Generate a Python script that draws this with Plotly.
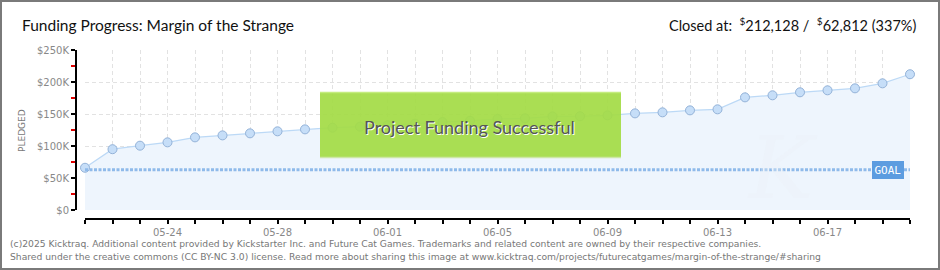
import plotly.graph_objects as go
import pandas as pd

# ---- data ----
dates = pd.date_range("2025-05-21", "2025-06-20", freq="D").strftime("%Y-%m-%d").tolist()
pledged = [66000, 95000, 100500, 105700, 113500, 116600, 119800, 122900, 126000, 128600,
           130200, 132500, 135000, 137500, 139500, 142200, 143200, 146300, 146500, 147900,
           151000, 152600, 155700, 157300, 176000, 179200, 183900, 187000, 190100, 197900,
           212128]
goal = 62812
y_ticks = [0, 50000, 100000, 150000, 200000, 250000]
y_tick_labels = ["$0", "$50K", "$100K", "$150K", "$200K", "$250K"]

title_text = "Funding Progress: Margin of the Strange"
status_text = "Closed at:  <sup>$</sup>212,128 /  <sup>$</sup>62,812 (337%)"
footer_1 = ("(c)2025 Kicktraq. Additional content provided by Kickstarter Inc. and Future Cat Games. "
            "Trademarks and related content are owned by their respective companies.")
footer_2 = ("Shared under the creative commons (CC BY-NC 3.0) license. Read more about sharing this image "
            "at www.kicktraq.com/projects/futurecatgames/margin-of-the-strange/#sharing")

W, H = 940, 270
L, R, T, B = 76, 30, 50, 51          # paper area: x 76..910, y 50..219
PW, PH = W - L - R, H - T - B

HEAD_FONT = "Lato, Roboto, sans-serif"


def px(x):
    return (x - L) / PW


def py(y):
    return (H - B - y) / PH


fig = go.Figure()

# pledged area + line + markers
fig.add_trace(go.Scatter(
    x=dates, y=pledged, mode="lines+markers", fill="tozeroy",
    fillcolor="#EEF5FD",
    line=dict(color="#BCD9F6", width=1.2),
    marker=dict(size=9, color="#C6DEF8", line=dict(color="#93B2D8", width=1)),
    cliponaxis=False, hoverinfo="skip",
))

# goal line
fig.add_trace(go.Scatter(
    x=[dates[0], dates[-1]], y=[goal, goal], mode="lines",
    line=dict(color="#8FBAEA", width=3, dash="3px,1.5px"),
    cliponaxis=False, hoverinfo="skip",
))

shapes = [
    # outer frame
    dict(type="rect", xref="paper", yref="paper",
         x0=px(1), x1=px(939), y0=py(269), y1=py(1),
         line=dict(color="#7A7A7A", width=2), fillcolor="rgba(0,0,0,0)", layer="below"),
    # success banner
    dict(type="rect", xref="paper", yref="paper",
         x0=px(320), x1=px(621), y0=py(158), y1=py(92),
         line=dict(width=0), fillcolor="rgba(164,219,70,0.93)", layer="above"),
    dict(type="line", xref="paper", yref="paper",
         x0=px(320), x1=px(621), y0=py(92.5), y1=py(92.5),
         line=dict(color="#C4EC7E", width=1.5), layer="above"),
    dict(type="line", xref="paper", yref="paper",
         x0=px(320), x1=px(621), y0=py(157.5), y1=py(157.5),
         line=dict(color="#CDE7A6", width=1.5), layer="above"),
]

annotations = [
    dict(text=title_text, xref="paper", yref="paper", x=px(20), y=py(25),
         xanchor="left", yanchor="middle", showarrow=False,
         font=dict(family=HEAD_FONT, size=15.5, color="#111")),
    dict(text=status_text, xref="paper", yref="paper", x=px(918), y=py(25),
         xanchor="right", yanchor="middle", showarrow=False,
         font=dict(family=HEAD_FONT, size=14.5, color="#111")),
    dict(text="PLEDGED", xref="paper", yref="paper", x=px(22), y=py(131),
         xanchor="center", yanchor="middle", showarrow=False, textangle=-90,
         font=dict(family="DejaVu Sans, sans-serif", size=9, color="#777")),
    dict(text="K", xref="paper", yref="paper", x=px(782), y=py(168),
         xanchor="center", yanchor="middle", showarrow=False,
         font=dict(family="DejaVu Serif, serif", size=86, color="rgba(236,241,247,0.35)", style="italic")),
    dict(text="GOAL", xref="paper", yref="y", x=px(888), y=goal,
         xanchor="center", yanchor="middle", showarrow=False,
         bgcolor="#5C9CE0", bordercolor="#5C9CE0", borderwidth=1, borderpad=1.5,
         font=dict(family="DejaVu Sans Mono, monospace", size=11, color="white")),
    dict(text="Project Funding Successful", xref="paper", yref="paper", x=px(469), y=py(127),
         xanchor="center", yanchor="middle", showarrow=False,
         font=dict(family=HEAD_FONT, size=18, color="#555", shadow="1px 1px 0px #FFFFFF")),
    dict(text=footer_1, xref="paper", yref="paper", x=px(8), y=py(243),
         xanchor="left", yanchor="middle", showarrow=False,
         font=dict(family="DejaVu Sans, sans-serif", size=9.2, color="#777")),
    dict(text=footer_2, xref="paper", yref="paper", x=px(8), y=py(256),
         xanchor="left", yanchor="middle", showarrow=False,
         font=dict(family="DejaVu Sans, sans-serif", size=9.2, color="#777")),
]

tick_font = dict(family="DejaVu Sans, sans-serif", size=10, color="#888")

fig.update_layout(
    width=W, height=H,
    margin=dict(l=L, r=R, t=T, b=B, pad=0),
    paper_bgcolor="white", plot_bgcolor="white",
    showlegend=False,
    shapes=shapes, annotations=annotations,
    xaxis=dict(
        type="date", domain=[px(85), 1], anchor="free", position=0,
        range=[dates[0], dates[-1]],
        tick0="2025-05-24", dtick=4 * 86400000, tickformat="%m-%d",
        showline=True, linecolor="#000", linewidth=2,
        ticks="outside", ticklen=4, tickcolor="#000", tickwidth=1.5,
        showgrid=True, gridcolor="#E2E2E2", griddash="4px,3px", gridwidth=1,
        zeroline=False, tickfont=tick_font,
        minor=dict(dtick=86400000, tick0=dates[0], ticks="outside", ticklen=4,
                   tickcolor="#000", tickwidth=1.5, showgrid=True,
                   gridcolor="#E2E2E2", griddash="4px,3px", gridwidth=1),
        fixedrange=True,
    ),
    yaxis=dict(
        domain=[py(210), 1], anchor="free", position=0,
        range=[0, 250000],
        tickvals=y_ticks, ticktext=y_tick_labels,
        showline=True, linecolor="#000", linewidth=2,
        ticks="outside", ticklen=4, tickcolor="#000", tickwidth=1.5,
        showgrid=True, gridcolor="#E2E2E2", griddash="4px,3px", gridwidth=1,
        zeroline=False, tickfont=tick_font,
        minor=dict(dtick=25000, tick0=0, ticks="outside", ticklen=4,
                   tickcolor="#E00000", tickwidth=1.5, showgrid=False),
        fixedrange=True,
    ),
)

fig.write_html("out.html", config={"displayModeBar": False})
